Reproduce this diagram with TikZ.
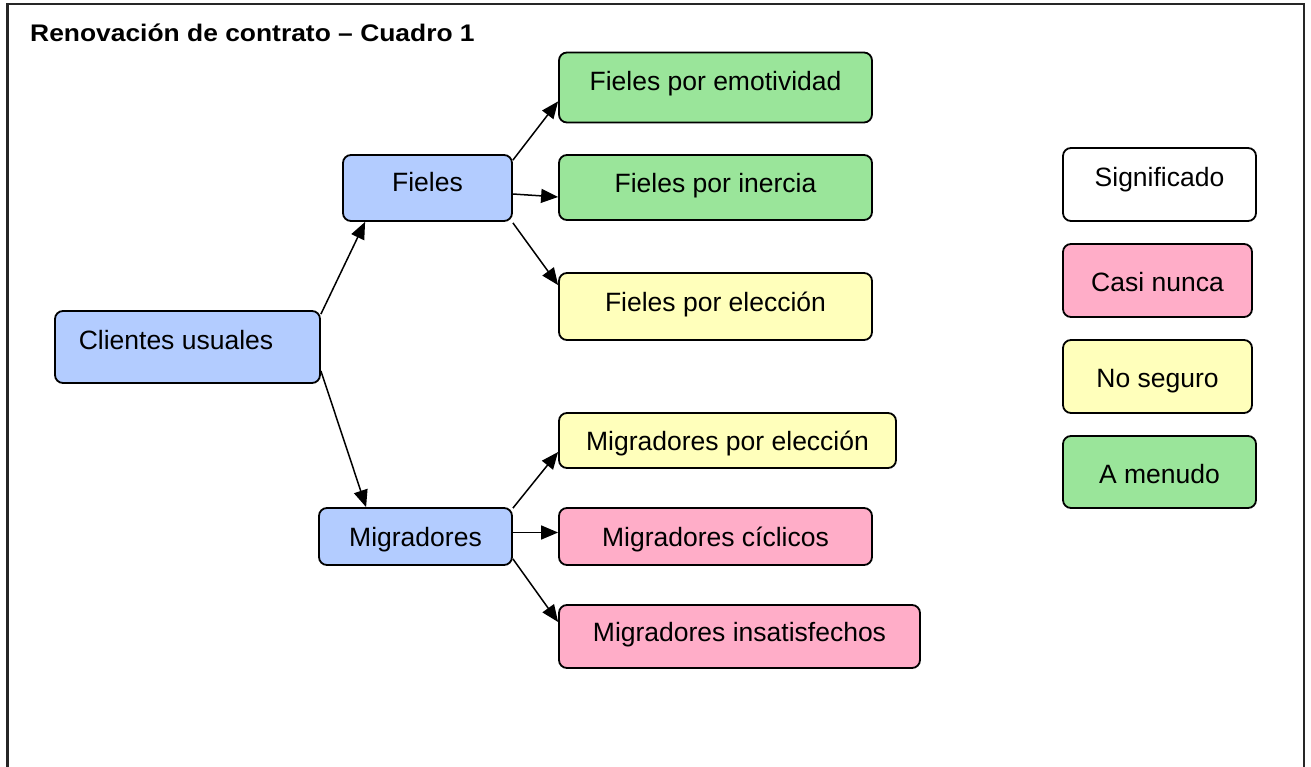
\documentclass[tikz,border=0pt]{standalone}
\usepackage{fontspec}
\setmainfont{Liberation Sans}
\usetikzlibrary{arrows.meta}
\definecolor{cblue}{HTML}{B3CCFF}
\definecolor{cgreen}{HTML}{9AE59A}
\definecolor{cpink}{HTML}{FFADC8}
\definecolor{cyellow}{HTML}{FFFFBB}
\tikzset{
  box/.style={draw=black, line width=1.8pt, rounded corners=8pt, inner sep=0pt,
    text height=19pt, text depth=0pt,
    font=\fontsize{26.5}{31}\selectfont},
  conn/.style={line width=1.5pt, -{Triangle[length=17pt,width=14pt]}},
}
\newcommand{\bx}[4]{\node[box, fill=#1, minimum width=#2pt, minimum height=#3pt] #4}
\begin{document}
\begin{tikzpicture}[x=1pt,y=-1pt]
\useasboundingbox (0,0) rectangle (1311,767);
\draw[line width=2.5pt, black!85] (7.5,770) -- (7.5,4) -- (1304,4) -- (1304,770);
\node[anchor=base west, inner sep=0pt, font=\fontsize{24}{28}\selectfont\bfseries] (title) at (30,41.5) {\scalebox{1.1}[1]{Renovación de contrato – Cuadro 1}};

\bx{cblue}{265}{72}{(cli) at (187.5,347) {\raisebox{7.5pt}{Clientes usuales}\kern23pt};}
\bx{cblue}{169}{66}{(fie) at (427.5,188) {\raisebox{6pt}{Fieles}};}
\bx{cblue}{193}{57}{(mig) at (415.5,536.5) {Migradores};}

\bx{cgreen}{313}{70}{(emo) at (715.5,87.5) {\raisebox{6.5pt}{Fieles por emotividad}};}
\bx{cgreen}{313}{65}{(ine) at (715.5,187.5) {\raisebox{4.5pt}{Fieles por inercia}};}
\bx{cyellow}{313}{67}{(ele) at (715.5,306.5) {\raisebox{4.5pt}{Fieles por elección}};}

\bx{cyellow}{337}{55}{(mpe) at (727.5,440.5) {Migradores por elección};}
\bx{cpink}{313}{57}{(mci) at (715.5,536.5) {Migradores cíclicos};}
\bx{cpink}{361}{63}{(mins) at (739.5,636.5) {\raisebox{4.5pt}{Migradores insatisfechos}};}

\bx{white}{193}{73}{(sig) at (1159.5,184.5) {\raisebox{7pt}{Significado}};}
\bx{cpink}{189}{73}{(casi) at (1157.5,280.5) {\raisebox{-1.5pt}{Casi nunca}};}
\bx{cyellow}{189}{73}{(nos) at (1157.5,376.5) {\raisebox{-1.5pt}{No seguro}};}
\bx{cgreen}{193}{72}{(amen) at (1159.5,472) {\raisebox{-2pt}{A menudo}};}

\draw[conn] ([yshift=-4pt]cli.north east) -- ([xshift=23pt]fie.south west);
\draw[conn] ([yshift=13pt]cli.south east) -- ([xshift=48pt]mig.north west);
\draw[conn] ([yshift=-6pt]fie.north east) -- ([yshift=22pt]emo.south west);
\draw[conn] ([yshift=-6pt]fie.east) -- ([yshift=-9.5pt]ine.west);
\draw[conn] ([yshift=-1pt]fie.south east) -- ([yshift=-13pt]ele.north west);
\draw[conn] ([yshift=-1pt]mig.north east) -- ([yshift=-11.5pt]mpe.west);
\draw[conn] ([yshift=4pt]mig.east) -- ([yshift=4pt]mci.west);
\draw[conn] ([yshift=7pt]mig.south east) -- ([yshift=14.5pt]mins.west);
\end{tikzpicture}
\end{document}
